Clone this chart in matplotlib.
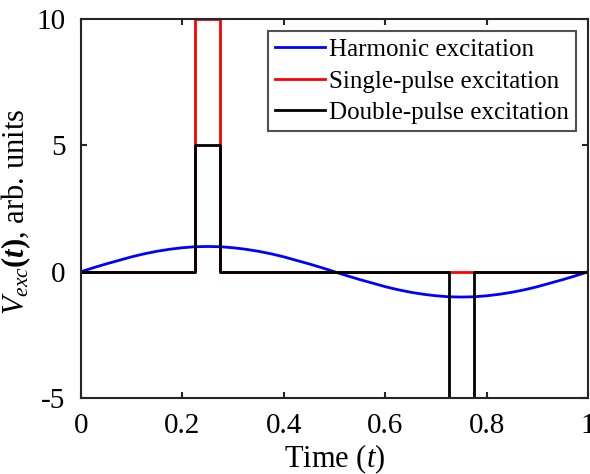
import numpy as np
import matplotlib.pyplot as plt

plt.rcParams['font.family'] = ['Liberation Serif', 'DejaVu Serif']
plt.rcParams['mathtext.fontset'] = 'custom'
plt.rcParams['mathtext.rm'] = 'Liberation Serif'
plt.rcParams['mathtext.it'] = 'Liberation Serif:italic'
plt.rcParams['mathtext.bf'] = 'Liberation Serif:bold'
plt.rcParams['mathtext.bfit'] = 'Liberation Serif:italic:bold'
plt.rcParams['axes.unicode_minus'] = False

# Harmonic excitation at steps of 0.025
t_harm = np.linspace(0, 1, 41)
v_harm = [0.00, 0.16, 0.31, 0.45, 0.59, 0.71, 0.81, 0.89, 0.95, 0.99,
          1.00, 0.99, 0.95, 0.89, 0.81, 0.71, 0.59, 0.45, 0.31, 0.16,
          0.00, -0.16, -0.31, -0.45, -0.59, -0.71, -0.81, -0.89, -0.95, -0.99,
          -1.00, -0.99, -0.95, -0.89, -0.81, -0.71, -0.59, -0.45, -0.31, -0.16,
          0.00]

# Single pulse
t_single = [0, 0.225, 0.225, 0.275, 0.275, 1]
v_single = [0, 0, 10, 10, 0, 0]

# Double pulse
t_double = [0, 0.225, 0.225, 0.275, 0.275, 0.725, 0.725, 0.775, 0.775, 1]
v_double = [0, 0, 5, 5, 0, 0, -5, -5, 0, 0]

fig = plt.figure(figsize=(5.9, 4.74), dpi=100)
ax = fig.add_axes([0.137, 0.160, 0.860, 0.800])

ax.plot(t_harm, v_harm, color='#0000ff', lw=2, label='Harmonic excitation')
ax.plot(t_single, v_single, color='#ff0000', lw=2, label='Single-pulse excitation')
ax.plot(t_double, v_double, color='black', lw=2, label='Double-pulse excitation')

ax.set_xlim(0, 1)
ax.set_ylim(-5, 10)
ax.set_xticks([0, 0.2, 0.4, 0.6, 0.8, 1])
ax.set_xticklabels(['0', '0.2', '0.4', '0.6', '0.8', '1'])
ax.set_yticks([-5, 0, 5, 10])
ax.tick_params(direction='in', top=True, right=True, length=4, width=1.5,
               labelsize=21, color='#262626', pad=11)
for s in ax.spines.values():
    s.set_linewidth(1.5)
    s.set_color('#262626')

ax.set_xlabel('Time ($t$)', fontsize=22)
ax.xaxis.set_label_coords(0.5, -0.118)
ax.set_ylabel(r'$V_{exc}\mathbf{(}\boldsymbol{t}\mathbf{)}$, arb. units', fontsize=22)
ax.yaxis.set_label_coords(-0.095, 0.49)

leg = ax.legend(loc='upper right', fontsize=18, frameon=True, fancybox=False,
                handlelength=2.0, handletextpad=0.15, borderpad=0.29,
                labelspacing=0.36, borderaxespad=0.5)
leg.get_frame().set_edgecolor('#262626')
leg.get_frame().set_linewidth(1.5)

fig.savefig('out.png', dpi=100)
